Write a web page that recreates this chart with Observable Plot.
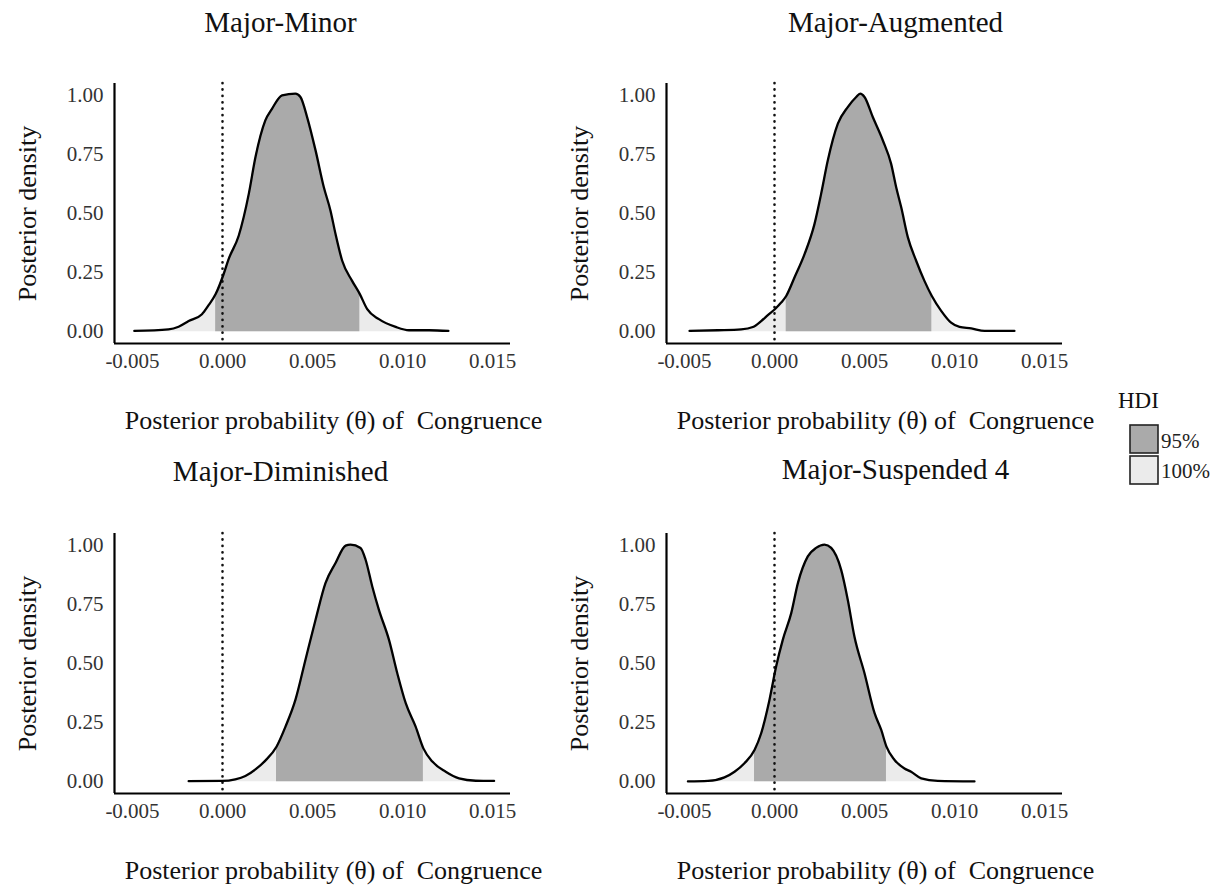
<!DOCTYPE html>
<html>
<head>
<meta charset="utf-8">
<script src="https://cdn.jsdelivr.net/npm/d3@7"></script>
<script src="https://cdn.jsdelivr.net/npm/@observablehq/plot@0.6"></script>
<style>
  html, body { margin: 0; padding: 0; background: white; }
  #wrap { position: relative; width: 1219px; height: 885px; background: white; font-family: "Liberation Serif", serif; }
  #wrap svg, #wrap svg text { font-family: "Liberation Serif", serif !important; }
  .cell { position: absolute; }
</style>
</head>
<body>
<div id="wrap"></div>
<script>
// ---- data ----
const titles = ["Major-Minor", "Major-Augmented", "Major-Diminished", "Major-Suspended 4"];
const xTicks = [-0.005, 0, 0.005, 0.01, 0.015];
const yTicks = [0, 0.25, 0.5, 0.75, 1];
const xDomain = [-0.006, 0.016];
const yDomain = [-0.05, 1.05];
const xLabel = "Posterior probability (\u03B8) of  Congruence";
const yLabel = "Posterior density";
const legendTitle = "HDI";
const legendLabels = ["95%", "100%"];

const minorX = [-0.0049, -0.003, -0.00244, -0.00188, -0.00114, -0.0008, -0.00038, 0.00006, 0.00034, 0.0009, 0.00146, 0.00183, 0.00238, 0.00275, 0.00331, 0.00405, 0.00433, 0.0047, 0.00517, 0.00563, 0.006, 0.00628, 0.00665, 0.0072, 0.00763, 0.00804, 0.00869, 0.00962, 0.01036, 0.01148, 0.01255];
const minorY = [0.003, 0.01, 0.021, 0.045, 0.074, 0.109, 0.159, 0.243, 0.307, 0.406, 0.583, 0.738, 0.894, 0.943, 1.0, 1.007, 0.993, 0.908, 0.767, 0.611, 0.512, 0.413, 0.3, 0.215, 0.159, 0.095, 0.053, 0.02, 0.006, 0.006, 0.003];
const minorHDI = [-0.00038, 0.00763];

const augX = [-0.00472, -0.00315, -0.00185, -0.0012, -0.00074, -0.00037, 0.00002, 0.00037, 0.00065, 0.00111, 0.00167, 0.00222, 0.00259, 0.00296, 0.00352, 0.00407, 0.00454, 0.00476, 0.005, 0.00546, 0.00602, 0.00648, 0.00676, 0.00704, 0.00741, 0.00787, 0.00833, 0.00874, 0.00926, 0.00981, 0.01028, 0.01093, 0.01167, 0.01333];
const augY = [0.003, 0.006, 0.01, 0.02, 0.045, 0.07, 0.095, 0.123, 0.151, 0.229, 0.328, 0.455, 0.583, 0.724, 0.88, 0.95, 0.993, 1.007, 0.993, 0.908, 0.809, 0.71, 0.611, 0.526, 0.399, 0.3, 0.215, 0.151, 0.088, 0.038, 0.02, 0.014, 0.003, 0.003];
const augHDI = [0.00065, 0.00874];

const dimX = [-0.00188, -0.00003, 0.00071, 0.00127, 0.00183, 0.00238, 0.003, 0.0035, 0.00405, 0.00461, 0.00517, 0.00572, 0.00628, 0.00684, 0.00711, 0.00767, 0.00795, 0.00832, 0.00869, 0.00925, 0.00971, 0.01018, 0.01073, 0.01116, 0.01166, 0.0124, 0.01314, 0.01407, 0.01509];
const dimY = [0.002, 0.003, 0.01, 0.024, 0.052, 0.089, 0.148, 0.233, 0.346, 0.516, 0.685, 0.84, 0.925, 0.999, 1.003, 0.989, 0.939, 0.826, 0.727, 0.6, 0.459, 0.332, 0.233, 0.141, 0.085, 0.042, 0.014, 0.004, 0.003];
const dimHDI = [0.003, 0.01116];

const susX = [-0.00481, -0.0037, -0.00278, -0.00222, -0.00167, -0.00111, -0.00074, -0.00028, 0.00009, 0.00046, 0.00093, 0.0013, 0.00185, 0.00231, 0.00278, 0.00315, 0.0037, 0.00407, 0.00444, 0.005, 0.00556, 0.00593, 0.00622, 0.00667, 0.00722, 0.00759, 0.00815, 0.00907, 0.01111];
const susY = [0.001, 0.003, 0.018, 0.042, 0.078, 0.134, 0.205, 0.346, 0.487, 0.6, 0.713, 0.84, 0.953, 0.989, 1.003, 0.989, 0.897, 0.77, 0.614, 0.459, 0.29, 0.219, 0.148, 0.092, 0.056, 0.042, 0.014, 0.003, 0.001];
const susHDI = [-0.00111, 0.00622];

// ---- layout ----
const DARK = "#aaaaaa", LIGHT = "#ebebeb";
const panels = [
  {title: titles[0], xs: minorX, ys: minorY, hdi: minorHDI, left: 0,   top: 0,   titleDx: -32, titleDy: -52},
  {title: titles[1], xs: augX,   ys: augY,   hdi: augHDI,   left: 552, top: 0,   titleDx: 31,  titleDy: -52},
  {title: titles[2], xs: dimX,   ys: dimY,   hdi: dimHDI,   left: 0,   top: 450, titleDx: -32, titleDy: -53},
  {title: titles[3], xs: susX,   ys: susY,   hdi: susHDI,   left: 552, top: 450, titleDx: 31,  titleDy: -55}
];

function makePanel(p) {
  const data = p.xs.map((x, i) => ({x, y: p.ys[i]}));
  const core = data.filter(d => d.x >= p.hdi[0] && d.x <= p.hdi[1]);
  return Plot.plot({
    width: 552, height: 450,
    marginLeft: 114, marginRight: 42, marginTop: 83, marginBottom: 107,
    style: {fontFamily: "'Liberation Serif', serif", background: "transparent", overflow: "visible"},
    x: {domain: xDomain, label: null},
    y: {domain: yDomain, label: null},
    marks: [
      Plot.areaY(data, {x: "x", y: "y", fill: LIGHT, curve: "monotone-x"}),
      Plot.areaY(core, {x: "x", y: "y", fill: DARK, curve: "monotone-x"}),
      Plot.ruleX([0], {stroke: "#111", strokeWidth: 2.6, strokeDasharray: "0.2,6.2", strokeLinecap: "round"}),
      Plot.lineY(data, {x: "x", y: "y", stroke: "#000", strokeWidth: 2.3, curve: "monotone-x"}),
      Plot.ruleX([xDomain[0]], {stroke: "#000", strokeWidth: 2.2}),
      Plot.ruleY([yDomain[0]], {stroke: "#000", strokeWidth: 2.2}),
      Plot.axisX({ticks: xTicks, tickSize: 0, tickPadding: 10, tickFormat: d => d.toFixed(3), fontSize: 21, color: "#333", label: null}),
      Plot.axisY({ticks: yTicks, tickSize: 0, tickPadding: 11, tickFormat: d => d.toFixed(2), fontSize: 21, color: "#333", label: null}),
      Plot.text([p.title], {text: d => d, frameAnchor: "top", dx: p.titleDx, dy: p.titleDy, lineAnchor: "bottom", textAnchor: "middle", fontSize: 29, fill: "#111"}),
      Plot.text([xLabel], {text: d => d, frameAnchor: "bottom", dx: 21, dy: 85, lineAnchor: "bottom", textAnchor: "middle", fontSize: 26, fill: "#111"}),
      Plot.text([yLabel], {text: d => d, frameAnchor: "left", dx: -87, rotate: -90, lineAnchor: "middle", textAnchor: "middle", fontSize: 26, fill: "#111"})
    ]
  });
}

const wrap = document.getElementById("wrap");
for (const p of panels) {
  const div = document.createElement("div");
  div.className = "cell";
  div.style.left = p.left + "px";
  div.style.top = p.top + "px";
  div.appendChild(makePanel(p));
  wrap.appendChild(div);
}

// ---- legend ----
const ns = "http://www.w3.org/2000/svg";
const leg = document.createElementNS(ns, "svg");
leg.setAttribute("width", 110);
leg.setAttribute("height", 110);
leg.style.position = "absolute";
leg.style.left = "1109px";
leg.style.top = "380px";
const legFills = [DARK, LIGHT];
function add(tag, attrs, text) {
  const el = document.createElementNS(ns, tag);
  for (const k in attrs) el.setAttribute(k, attrs[k]);
  if (text != null) el.textContent = text;
  leg.appendChild(el);
  return el;
}
add("text", {x: 9, y: 28, "font-size": 23, fill: "#111"}, legendTitle);
legendLabels.forEach((lab, i) => {
  add("rect", {x: 21, y: 45 + i * 31, width: 28, height: 28, fill: legFills[i], stroke: "#222", "stroke-width": 1.6});
  add("text", {x: 52, y: 68 + i * 30, "font-size": 21, fill: "#222"}, lab);
});
wrap.appendChild(leg);
</script>
</body>
</html>
